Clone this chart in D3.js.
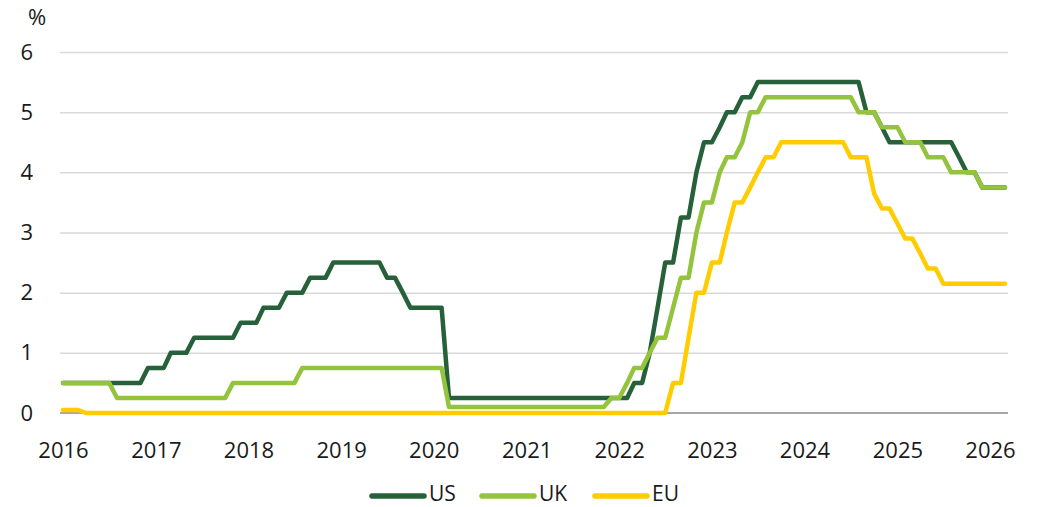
<html>
<head>
  <script src="https://d3js.org/d3.v7.min.js"></script>
  <style>
    body { margin: 0; background: #fff; }
    text { font-family: "Open Sans", sans-serif; fill: #1a1a1a; }
    .gridlines line { stroke: #d9d9d9; stroke-width: 1.5px; }
    .gridlines .domain { stroke: none; }
    .axis .domain { stroke: none; }
    .axis text { font-size: 22px; }
    .rate { fill: none; stroke-width: 4.5px; stroke-linejoin: round; stroke-linecap: round; }
  </style>
</head>
<body>
  <svg id="chart" width="1045" height="507"></svg>
  <script>
    // monthly values, Jan 2016 .. Mar 2026 (one row per year)
    const us = [
      0.5, 0.5, 0.5, 0.5, 0.5, 0.5, 0.5, 0.5, 0.5, 0.5, 0.5, 0.75,
      0.75, 0.75, 1, 1, 1, 1.25, 1.25, 1.25, 1.25, 1.25, 1.25, 1.5,
      1.5, 1.5, 1.75, 1.75, 1.75, 2, 2, 2, 2.25, 2.25, 2.25, 2.5,
      2.5, 2.5, 2.5, 2.5, 2.5, 2.5, 2.25, 2.25, 2, 1.75, 1.75, 1.75,
      1.75, 1.75, 0.25, 0.25, 0.25, 0.25, 0.25, 0.25, 0.25, 0.25, 0.25, 0.25,
      0.25, 0.25, 0.25, 0.25, 0.25, 0.25, 0.25, 0.25, 0.25, 0.25, 0.25, 0.25,
      0.25, 0.25, 0.5, 0.5, 1, 1.75, 2.5, 2.5, 3.25, 3.25, 4, 4.5,
      4.5, 4.75, 5, 5, 5.25, 5.25, 5.5, 5.5, 5.5, 5.5, 5.5, 5.5,
      5.5, 5.5, 5.5, 5.5, 5.5, 5.5, 5.5, 5.5, 5, 5, 4.75, 4.5,
      4.5, 4.5, 4.5, 4.5, 4.5, 4.5, 4.5, 4.5, 4.25, 4, 4, 3.75,
      3.75, 3.75, 3.75
    ];
    const uk = [
      0.5, 0.5, 0.5, 0.5, 0.5, 0.5, 0.5, 0.25, 0.25, 0.25, 0.25, 0.25,
      0.25, 0.25, 0.25, 0.25, 0.25, 0.25, 0.25, 0.25, 0.25, 0.25, 0.5, 0.5,
      0.5, 0.5, 0.5, 0.5, 0.5, 0.5, 0.5, 0.75, 0.75, 0.75, 0.75, 0.75,
      0.75, 0.75, 0.75, 0.75, 0.75, 0.75, 0.75, 0.75, 0.75, 0.75, 0.75, 0.75,
      0.75, 0.75, 0.1, 0.1, 0.1, 0.1, 0.1, 0.1, 0.1, 0.1, 0.1, 0.1,
      0.1, 0.1, 0.1, 0.1, 0.1, 0.1, 0.1, 0.1, 0.1, 0.1, 0.1, 0.25,
      0.25, 0.5, 0.75, 0.75, 1, 1.25, 1.25, 1.75, 2.25, 2.25, 3, 3.5,
      3.5, 4, 4.25, 4.25, 4.5, 5, 5, 5.25, 5.25, 5.25, 5.25, 5.25,
      5.25, 5.25, 5.25, 5.25, 5.25, 5.25, 5.25, 5, 5, 5, 4.75, 4.75,
      4.75, 4.5, 4.5, 4.5, 4.25, 4.25, 4.25, 4, 4, 4, 4, 3.75,
      3.75, 3.75, 3.75
    ];
    const eu = [
      0.05, 0.05, 0.05, 0, 0, 0, 0, 0, 0, 0, 0, 0,
      0, 0, 0, 0, 0, 0, 0, 0, 0, 0, 0, 0,
      0, 0, 0, 0, 0, 0, 0, 0, 0, 0, 0, 0,
      0, 0, 0, 0, 0, 0, 0, 0, 0, 0, 0, 0,
      0, 0, 0, 0, 0, 0, 0, 0, 0, 0, 0, 0,
      0, 0, 0, 0, 0, 0, 0, 0, 0, 0, 0, 0,
      0, 0, 0, 0, 0, 0, 0, 0.5, 0.5, 1.25, 2, 2,
      2.5, 2.5, 3, 3.5, 3.5, 3.75, 4, 4.25, 4.25, 4.5, 4.5, 4.5,
      4.5, 4.5, 4.5, 4.5, 4.5, 4.5, 4.25, 4.25, 4.25, 3.65, 3.4, 3.4,
      3.15, 2.9, 2.9, 2.65, 2.4, 2.4, 2.15, 2.15, 2.15, 2.15, 2.15, 2.15,
      2.15, 2.15, 2.15
    ];
    const seriesNames = ["US", "UK", "EU"];
    const yTicks = [0, 1, 2, 3, 4, 5, 6];

    const colors = { US: "#27613a", UK: "#94c33d", EU: "#ffcc00" };
    const start = new Date(2016, 0, 1);
    const months = d3.range(us.length).map(i => d3.timeMonth.offset(start, i));

    const svg = d3.select("svg#chart");

    const x = d3.scaleTime()
      .domain([start, months[months.length - 1]])
      .range([63, 1005]);
    const y = d3.scaleLinear().domain([0, 6]).range([413, 52]);

    // gridlines
    svg.append("g")
      .attr("class", "gridlines")
      .attr("transform", "translate(60,0)")
      .call(d3.axisLeft(y).tickValues(yTicks.filter(v => v > 0)).tickSize(-948).tickFormat(""));

    // zero line
    svg.append("line")
      .attr("x1", 60).attr("x2", 1008)
      .attr("y1", y(0)).attr("y2", y(0))
      .attr("stroke", "#8a8a8a").attr("stroke-width", 1.5);

    svg.append("g")
      .attr("class", "axis")
      .attr("transform", "translate(60,0)")
      .call(d3.axisLeft(y).tickValues(yTicks).tickSize(0).tickPadding(27).tickFormat(d3.format("d")));

    svg.append("g")
      .attr("class", "axis")
      .attr("transform", `translate(0,${y(0)})`)
      .call(d3.axisBottom(x).ticks(d3.timeYear.every(1)).tickSize(0).tickPadding(29).tickFormat(d3.timeFormat("%Y")));

    svg.append("text")
      .attr("x", 28).attr("y", 25)
      .style("font-size", "22px")
      .text("%");

    const line = d3.line()
      .x((d, i) => x(months[i]))
      .y(d => y(d));

    const data = { US: us, UK: uk, EU: eu };
    seriesNames.forEach(name => {
      svg.append("path")
        .attr("class", "rate")
        .attr("stroke", colors[name])
        .attr("d", line(data[name]));
    });

    // legend
    const legendX = [372, 482, 595];
    const legend = svg.append("g").attr("transform", "translate(0,496)");
    seriesNames.forEach((name, i) => {
      legend.append("line")
        .attr("x1", legendX[i]).attr("x2", legendX[i] + 52)
        .attr("stroke", colors[name])
        .attr("stroke-width", 5.5)
        .attr("stroke-linecap", "round");
      legend.append("text")
        .attr("x", legendX[i] + 57)
        .attr("y", 5)
        .style("font-size", "21px")
        .text(name);
    });
  </script>
</body>
</html>
